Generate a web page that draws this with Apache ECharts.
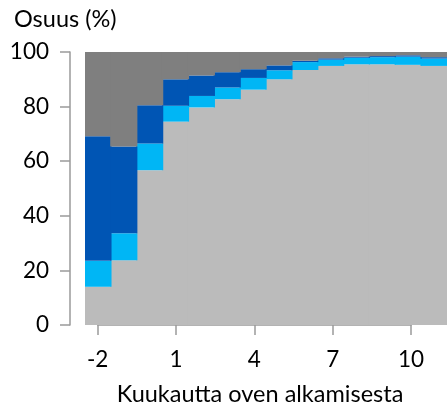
<!DOCTYPE html>
<html>
<head>
<meta charset="utf-8">
<script src="https://cdn.jsdelivr.net/npm/echarts@6/dist/echarts.min.js"></script>
<style>html,body{margin:0;padding:0;background:#fff}#c{width:447px;height:407px}</style>
</head>
<body>
<div id="c"></div>
<script>
const categories = [-2, -1, 0, 1, 2, 3, 4, 5, 6, 7, 8, 9, 10, 11];
const lightGray = [14.0, 23.7, 56.7, 74.5, 79.7, 82.7, 86.2, 90.0, 93.4, 94.9, 95.5, 95.5, 95.3, 94.9];
const lightBlue = [9.5, 9.9, 9.8, 5.8, 4.2, 4.3, 4.3, 3.3, 2.9, 2.3, 2.4, 2.6, 3.0, 2.7];
const darkBlue = [45.6, 31.8, 14.0, 9.7, 7.5, 5.6, 3.2, 1.8, 0.5, 0.5, 0.4, 0.4, 0.5, 0.5];
const darkGray = [30.9, 34.6, 19.5, 10.0, 8.6, 7.4, 6.3, 4.9, 3.2, 2.3, 1.7, 1.5, 1.2, 1.9];
const yTicks = { min: 0, max: 100, interval: 20 };
const xTicks = { min: -2, max: 10, interval: 3 };
const yTitle = 'Osuus (%)';
const xTitle = 'Kuukautta oven alkamisesta';

const FONT = 'Lato';
const axisCol = '#9a9a9a';
const chart = echarts.init(document.getElementById('c'), null, { renderer: 'canvas' });
function bar(name, data, color) {
  return { name, type: 'bar', stack: 's', data, xAxisIndex: 0, yAxisIndex: 0,
    barWidth: 27.2, barGap: '0%',
    itemStyle: { color }, silent: true };
}
chart.setOption({
  animation: false,
  textStyle: { fontFamily: FONT },
  grid: [
    { left: 85, width: 365.4, top: 52, height: 273 },
    { left: 97.7, width: 313.4, top: 52, height: 273 }
  ],
  xAxis: [
    { type: 'category', gridIndex: 0, data: categories, show: false },
    { type: 'value', gridIndex: 1, min: xTicks.min, max: xTicks.max, interval: xTicks.interval, offset: 4,
      axisLine: { show: true, lineStyle: { color: axisCol, width: 1.5 } },
      axisTick: { show: true, length: 10, lineStyle: { color: axisCol, width: 1.5 } },
      axisLabel: { fontSize: 22.5, color: '#000', fontFamily: FONT, margin: 19 },
      splitLine: { show: false } }
  ],
  yAxis: [
    { type: 'value', gridIndex: 0, min: yTicks.min, max: yTicks.max, interval: yTicks.interval, offset: 15,
      axisLine: { show: true, lineStyle: { color: axisCol, width: 1.5 } },
      axisTick: { show: true, length: 10, lineStyle: { color: axisCol, width: 1.5 } },
      axisLabel: { fontSize: 22.5, color: '#000', fontFamily: FONT, margin: 21 },
      splitLine: { show: false } },
    { type: 'value', gridIndex: 1, min: 0, max: 100, show: false }
  ],
  series: [
    bar('a', lightGray, '#bbbbbb'),
    bar('b', lightBlue, '#00b6f5'),
    bar('c', darkBlue, '#0055b4'),
    bar('d', darkGray, '#7f7f7f'),
    { type: 'line', xAxisIndex: 1, yAxisIndex: 1, data: [], silent: true }
  ],
  graphic: [
    { type: 'text', left: 14, top: 7, style: { text: yTitle, font: '23.5px ' + FONT, fill: '#000' } },
    { type: 'text', x: 260, y: 394, style: { text: xTitle, font: '23.5px ' + FONT, fill: '#000', align: 'center', verticalAlign: 'middle' } }
  ]
});
</script>
</body>
</html>
